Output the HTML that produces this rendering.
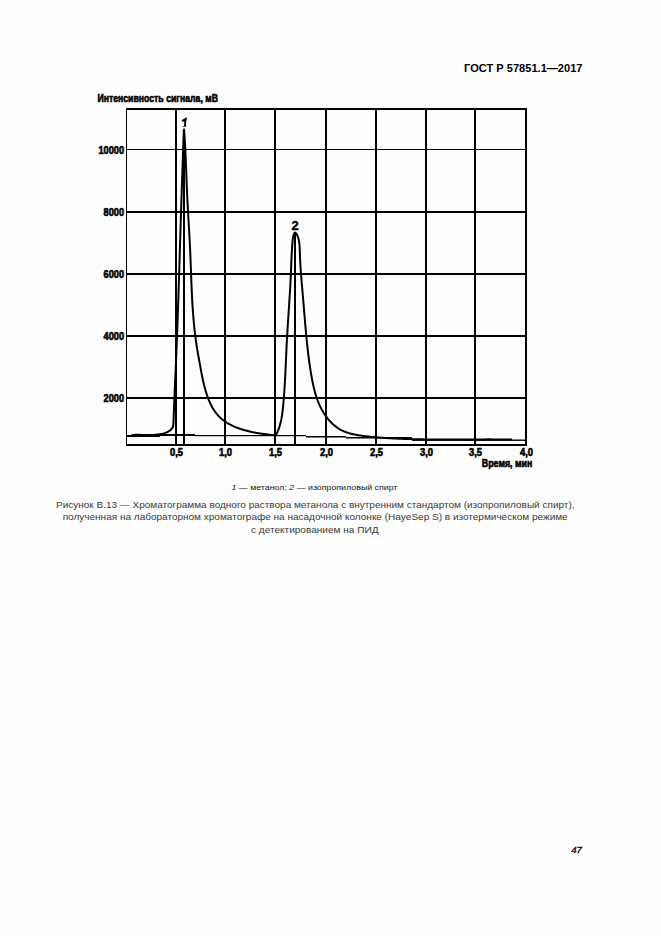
<!DOCTYPE html>
<html><head><meta charset="utf-8">
<style>
html,body{margin:0;padding:0;}
body{width:661px;height:936px;background:#fdfdfd;overflow:hidden;}
svg{position:absolute;left:0;top:0;display:block;}
text{font-family:"Liberation Sans",sans-serif;white-space:pre;}
</style></head><body>
<svg width="661" height="936" viewBox="0 0 661 936">

<g fill="#000">
<rect x="126" y="108" width="1" height="338"/>
<rect x="126" y="108" width="401" height="2"/>
<rect x="126" y="444" width="401" height="2"/>
<rect x="525" y="108" width="2" height="338"/>
<rect x="175" y="108" width="2" height="338"/>
<rect x="224" y="108" width="2" height="338"/>
<rect x="274" y="108" width="2" height="338"/>
<rect x="325" y="108" width="2" height="338"/>
<rect x="375" y="108" width="2" height="338"/>
<rect x="425" y="108" width="2" height="338"/>
<rect x="474" y="108" width="2" height="338"/>
<rect x="126" y="149" width="400" height="1"/>
<rect x="126" y="211" width="400" height="2"/>
<rect x="126" y="273" width="400" height="2"/>
<rect x="126" y="335" width="400" height="2"/>
<rect x="126" y="397" width="400" height="2"/>
<rect x="183" y="129" width="2" height="315"/>
<rect x="294" y="233" width="2" height="211"/>
</g>
<g fill="#000"><rect x="126" y="435" width="6" height="2"/><rect x="132" y="434" width="28" height="3"/><rect x="160" y="434" width="35" height="2"/><rect x="195" y="435" width="111" height="1.2"/><rect x="306" y="436" width="40" height="1.5"/><rect x="346" y="437" width="66" height="1.5"/><rect x="412" y="439.5" width="113" height="1.4"/></g>
<path d="M131.50 435.00 L132.52 434.98 L133.52 434.93 L134.52 434.89 L135.53 434.87 L136.53 434.86 L137.53 434.85 L138.53 434.85 L139.53 434.86 L140.53 434.87 L141.54 434.89 L142.54 434.91 L143.54 434.93 L144.54 434.95 L145.54 434.96 L146.54 434.98 L147.54 434.99 L148.55 434.99 L149.55 434.99 L150.55 434.98 L151.55 434.95 L152.55 434.92 L153.55 434.88 L154.55 434.82 L155.55 434.75 L156.55 434.66 L157.55 434.55 L158.54 434.42 L159.53 434.27 L160.52 434.10 L161.50 433.91 L162.48 433.69 L163.45 433.44 L164.41 433.16 L165.37 432.86 L166.31 432.52 L167.23 432.13 L168.13 431.69 L168.99 431.18 L169.82 430.61 L170.59 429.97 L171.30 429.27 L171.94 428.50 L172.49 427.66 L172.92 426.76 L173.20 425.80 L173.35 424.81 L173.43 423.81 L173.47 422.81 L173.50 421.81 L173.53 420.80 L173.57 419.80 L173.60 418.80 L173.64 417.80 L173.67 416.80 L173.71 415.80 L173.75 414.80 L173.78 413.80 L173.82 412.80 L173.86 411.79 L173.90 410.79 L173.94 409.79 L173.98 408.79 L174.02 407.79 L174.06 406.79 L174.10 405.79 L174.14 404.79 L174.18 403.79 L174.22 402.79 L174.26 401.79 L174.31 400.79 L174.35 399.78 L174.39 398.78 L174.43 397.78 L174.48 396.78 L174.52 395.78 L174.56 394.78 L174.61 393.78 L174.65 392.78 L174.69 391.78 L174.74 390.78 L174.78 389.78 L174.82 388.78 L174.87 387.78 L174.91 386.77 L174.95 385.77 L175.00 384.77 L175.04 383.77 L175.08 382.77 L175.13 381.77 L175.17 380.77 L175.21 379.77 L175.26 378.77 L175.30 377.77 L175.34 376.77 L175.39 375.77 L175.43 374.77 L175.47 373.76 L175.52 372.76 L175.56 371.76 L175.60 370.76 L175.64 369.76 L175.69 368.76 L175.73 367.76 L175.77 366.76 L175.81 365.76 L175.85 364.76 L175.90 363.76 L175.94 362.76 L175.98 361.75 L176.02 360.75 L176.06 359.75 L176.10 358.75 L176.15 357.75 L176.19 356.75 L176.23 355.75 L176.27 354.75 L176.31 353.75 L176.35 352.75 L176.39 351.75 L176.43 350.74 L176.47 349.74 L176.51 348.74 L176.55 347.74 L176.59 346.74 L176.63 345.74 L176.67 344.74 L176.71 343.74 L176.75 342.74 L176.79 341.74 L176.83 340.74 L176.87 339.73 L176.91 338.73 L176.95 337.73 L176.99 336.73 L177.03 335.73 L177.07 334.73 L177.10 333.73 L177.14 332.73 L177.18 331.73 L177.22 330.73 L177.26 329.73 L177.29 328.72 L177.33 327.72 L177.37 326.72 L177.41 325.72 L177.44 324.72 L177.48 323.72 L177.52 322.72 L177.55 321.72 L177.59 320.72 L177.63 319.71 L177.66 318.71 L177.70 317.71 L177.73 316.71 L177.77 315.71 L177.81 314.71 L177.84 313.71 L177.88 312.71 L177.91 311.71 L177.95 310.71 L177.98 309.70 L178.02 308.70 L178.05 307.70 L178.08 306.70 L178.12 305.70 L178.15 304.70 L178.19 303.70 L178.22 302.70 L178.25 301.69 L178.29 300.69 L178.32 299.69 L178.35 298.69 L178.38 297.69 L178.42 296.69 L178.45 295.69 L178.48 294.69 L178.51 293.69 L178.55 292.68 L178.58 291.68 L178.61 290.68 L178.64 289.68 L178.67 288.68 L178.71 287.68 L178.74 286.68 L178.77 285.68 L178.80 284.67 L178.83 283.67 L178.86 282.67 L178.90 281.67 L178.93 280.67 L178.96 279.67 L178.99 278.67 L179.02 277.67 L179.05 276.66 L179.08 275.66 L179.11 274.66 L179.14 273.66 L179.17 272.66 L179.20 271.66 L179.23 270.66 L179.27 269.66 L179.30 268.66 L179.33 267.65 L179.36 266.65 L179.39 265.65 L179.42 264.65 L179.45 263.65 L179.48 262.65 L179.51 261.65 L179.54 260.65 L179.57 259.64 L179.60 258.64 L179.63 257.64 L179.66 256.64 L179.69 255.64 L179.72 254.64 L179.75 253.64 L179.78 252.64 L179.81 251.63 L179.84 250.63 L179.87 249.63 L179.90 248.63 L179.93 247.63 L179.97 246.63 L180.00 245.63 L180.03 244.63 L180.06 243.62 L180.09 242.62 L180.12 241.62 L180.15 240.62 L180.18 239.62 L180.21 238.62 L180.24 237.62 L180.27 236.62 L180.30 235.61 L180.34 234.61 L180.37 233.61 L180.40 232.61 L180.43 231.61 L180.46 230.61 L180.49 229.61 L180.52 228.61 L180.55 227.60 L180.59 226.60 L180.62 225.60 L180.65 224.60 L180.68 223.60 L180.71 222.60 L180.74 221.60 L180.77 220.60 L180.81 219.59 L180.84 218.59 L180.87 217.59 L180.90 216.59 L180.93 215.59 L180.97 214.59 L181.00 213.59 L181.03 212.59 L181.06 211.58 L181.09 210.58 L181.13 209.58 L181.16 208.58 L181.19 207.58 L181.22 206.58 L181.25 205.58 L181.29 204.58 L181.32 203.58 L181.35 202.57 L181.38 201.57 L181.42 200.57 L181.45 199.57 L181.48 198.57 L181.51 197.57 L181.55 196.57 L181.58 195.57 L181.61 194.56 L181.65 193.56 L181.68 192.56 L181.71 191.56 L181.74 190.56 L181.78 189.56 L181.81 188.56 L181.84 187.56 L181.88 186.56 L181.91 185.55 L181.94 184.55 L181.98 183.55 L182.01 182.55 L182.04 181.55 L182.08 180.55 L182.11 179.55 L182.14 178.55 L182.18 177.55 L182.21 176.54 L182.24 175.54 L182.28 174.54 L182.31 173.54 L182.34 172.54 L182.38 171.54 L182.41 170.54 L182.45 169.54 L182.48 168.53 L182.51 167.53 L182.55 166.53 L182.58 165.53 L182.62 164.53 L182.65 163.53 L182.68 162.53 L182.72 161.53 L182.75 160.53 L182.79 159.52 L182.82 158.52 L182.86 157.52 L182.89 156.52 L182.92 155.52 L182.96 154.52 L182.99 153.52 L183.03 152.52 L183.06 151.52 L183.10 150.51 L183.13 149.51 L183.17 148.51 L183.20 147.51 L183.24 146.51 L183.27 145.51 L183.31 144.51 L183.34 143.51 L183.38 142.51 L183.41 141.50 L183.45 140.50 L183.48 139.50 L183.52 138.50 L183.55 137.50 L183.59 136.50 L183.62 135.50 L183.66 134.50 L183.69 133.50 L183.73 132.49 L183.76 131.49 L183.80 130.49 L184.00 129.50 L184.12 130.50 L184.20 131.50 L184.27 132.50 L184.34 133.50 L184.41 134.50 L184.48 135.49 L184.55 136.49 L184.61 137.49 L184.67 138.49 L184.74 139.49 L184.80 140.49 L184.86 141.49 L184.92 142.49 L184.97 143.49 L185.03 144.49 L185.08 145.49 L185.14 146.49 L185.19 147.49 L185.24 148.49 L185.29 149.49 L185.34 150.50 L185.39 151.50 L185.44 152.50 L185.48 153.50 L185.53 154.50 L185.57 155.50 L185.62 156.50 L185.66 157.50 L185.70 158.50 L185.75 159.50 L185.79 160.50 L185.83 161.50 L185.87 162.50 L185.91 163.50 L185.95 164.51 L185.99 165.51 L186.03 166.51 L186.07 167.51 L186.11 168.51 L186.14 169.51 L186.18 170.51 L186.22 171.51 L186.26 172.51 L186.30 173.51 L186.33 174.51 L186.37 175.52 L186.41 176.52 L186.45 177.52 L186.48 178.52 L186.52 179.52 L186.56 180.52 L186.60 181.52 L186.64 182.52 L186.68 183.52 L186.72 184.52 L186.76 185.52 L186.80 186.53 L186.84 187.53 L186.88 188.53 L186.92 189.53 L186.97 190.53 L187.01 191.53 L187.05 192.53 L187.10 193.53 L187.15 194.53 L187.19 195.53 L187.24 196.53 L187.29 197.53 L187.34 198.53 L187.39 199.53 L187.44 200.53 L187.49 201.53 L187.54 202.54 L187.59 203.54 L187.64 204.54 L187.70 205.54 L187.75 206.54 L187.80 207.54 L187.86 208.54 L187.91 209.54 L187.97 210.54 L188.02 211.54 L188.08 212.54 L188.14 213.54 L188.19 214.54 L188.25 215.54 L188.31 216.54 L188.37 217.54 L188.42 218.54 L188.48 219.54 L188.54 220.54 L188.60 221.54 L188.65 222.54 L188.71 223.54 L188.77 224.54 L188.83 225.54 L188.88 226.54 L188.94 227.54 L189.00 228.54 L189.06 229.54 L189.11 230.54 L189.17 231.54 L189.22 232.54 L189.28 233.54 L189.34 234.54 L189.39 235.54 L189.45 236.54 L189.50 237.54 L189.55 238.54 L189.61 239.54 L189.66 240.54 L189.71 241.54 L189.76 242.54 L189.81 243.54 L189.86 244.54 L189.91 245.54 L189.96 246.54 L190.01 247.54 L190.06 248.54 L190.11 249.54 L190.15 250.54 L190.20 251.54 L190.24 252.55 L190.28 253.55 L190.33 254.55 L190.37 255.55 L190.41 256.55 L190.45 257.55 L190.49 258.55 L190.53 259.55 L190.57 260.55 L190.61 261.55 L190.65 262.55 L190.69 263.56 L190.72 264.56 L190.76 265.56 L190.80 266.56 L190.84 267.56 L190.87 268.56 L190.91 269.56 L190.95 270.56 L190.98 271.56 L191.02 272.56 L191.06 273.56 L191.10 274.57 L191.13 275.57 L191.17 276.57 L191.21 277.57 L191.25 278.57 L191.28 279.57 L191.32 280.57 L191.36 281.57 L191.40 282.57 L191.44 283.57 L191.48 284.58 L191.52 285.58 L191.57 286.58 L191.61 287.58 L191.65 288.58 L191.70 289.58 L191.74 290.58 L191.79 291.58 L191.83 292.58 L191.88 293.58 L191.93 294.58 L191.98 295.58 L192.03 296.58 L192.08 297.58 L192.13 298.58 L192.19 299.58 L192.24 300.58 L192.30 301.58 L192.35 302.58 L192.41 303.58 L192.47 304.58 L192.53 305.58 L192.60 306.58 L192.66 307.58 L192.73 308.58 L192.79 309.58 L192.86 310.58 L192.93 311.58 L193.01 312.58 L193.08 313.58 L193.16 314.58 L193.23 315.58 L193.31 316.57 L193.39 317.57 L193.48 318.57 L193.56 319.57 L193.65 320.57 L193.74 321.56 L193.83 322.56 L193.92 323.56 L194.02 324.56 L194.12 325.55 L194.22 326.55 L194.32 327.55 L194.43 328.54 L194.53 329.54 L194.64 330.53 L194.76 331.53 L194.87 332.52 L194.99 333.52 L195.11 334.51 L195.23 335.51 L195.36 336.50 L195.48 337.49 L195.61 338.49 L195.75 339.48 L195.88 340.47 L196.02 341.47 L196.17 342.46 L196.31 343.45 L196.46 344.44 L196.61 345.43 L196.76 346.42 L196.92 347.41 L197.08 348.40 L197.24 349.38 L197.41 350.37 L197.57 351.36 L197.74 352.35 L197.91 353.34 L198.08 354.32 L198.26 355.31 L198.43 356.29 L198.61 357.28 L198.79 358.27 L198.97 359.25 L199.14 360.24 L199.32 361.22 L199.50 362.21 L199.68 363.19 L199.87 364.18 L200.05 365.16 L200.23 366.15 L200.41 367.14 L200.59 368.12 L200.77 369.11 L200.95 370.09 L201.13 371.08 L201.32 372.06 L201.50 373.04 L201.69 374.03 L201.88 375.01 L202.07 375.99 L202.27 376.98 L202.47 377.96 L202.68 378.94 L202.88 379.92 L203.10 380.90 L203.32 381.87 L203.54 382.85 L203.77 383.83 L204.00 384.80 L204.24 385.77 L204.49 386.74 L204.75 387.71 L205.01 388.68 L205.28 389.64 L205.55 390.61 L205.84 391.57 L206.13 392.52 L206.44 393.48 L206.75 394.43 L207.07 395.38 L207.40 396.33 L207.74 397.27 L208.09 398.21 L208.45 399.14 L208.82 400.07 L209.21 400.99 L209.61 401.91 L210.02 402.83 L210.44 403.73 L210.88 404.63 L211.33 405.53 L211.80 406.41 L212.28 407.29 L212.78 408.16 L213.30 409.02 L213.83 409.87 L214.38 410.71 L214.95 411.53 L215.53 412.34 L216.13 413.14 L216.76 413.93 L217.40 414.70 L218.06 415.45 L218.74 416.18 L219.45 416.90 L220.17 417.59 L220.90 418.27 L221.66 418.93 L222.43 419.56 L223.22 420.18 L224.02 420.78 L224.84 421.37 L225.66 421.93 L226.50 422.48 L227.35 423.01 L228.22 423.52 L229.09 424.01 L229.97 424.49 L230.85 424.95 L231.75 425.40 L232.65 425.83 L233.56 426.25 L234.48 426.66 L235.40 427.05 L236.33 427.43 L237.26 427.79 L238.20 428.14 L239.14 428.48 L240.09 428.81 L241.04 429.13 L241.99 429.44 L242.95 429.73 L243.91 430.02 L244.87 430.29 L245.84 430.56 L246.81 430.82 L247.78 431.06 L248.75 431.30 L249.73 431.53 L250.70 431.75 L251.68 431.97 L252.66 432.17 L253.64 432.37 L254.63 432.56 L255.61 432.74 L256.60 432.92 L257.58 433.09 L258.57 433.25 L259.56 433.41 L260.55 433.56 L261.54 433.71 L262.54 433.85 L263.53 433.98 L264.52 434.11 L265.51 434.24 L266.51 434.36 L267.50 434.48 L268.50 434.60 L269.49 434.71 L270.49 434.82 L271.49 434.92 L272.48 435.03 L273.48 435.13 L274.47 435.23 L275.50 435.30 L276.19 434.60 L276.65 433.71 L277.08 432.80 L277.49 431.89 L277.89 430.96 L278.26 430.03 L278.62 429.09 L278.96 428.15 L279.28 427.20 L279.58 426.24 L279.87 425.28 L280.14 424.31 L280.40 423.34 L280.64 422.36 L280.87 421.39 L281.09 420.41 L281.29 419.42 L281.48 418.44 L281.66 417.45 L281.83 416.46 L281.99 415.47 L282.13 414.47 L282.28 413.48 L282.41 412.48 L282.53 411.49 L282.65 410.49 L282.77 409.49 L282.88 408.49 L282.98 407.50 L283.08 406.50 L283.18 405.50 L283.27 404.50 L283.37 403.50 L283.46 402.50 L283.54 401.50 L283.63 400.50 L283.71 399.50 L283.80 398.50 L283.88 397.49 L283.96 396.49 L284.03 395.49 L284.11 394.49 L284.18 393.49 L284.25 392.49 L284.32 391.49 L284.39 390.48 L284.46 389.48 L284.52 388.48 L284.59 387.48 L284.65 386.48 L284.71 385.47 L284.77 384.47 L284.83 383.47 L284.89 382.47 L284.94 381.46 L285.00 380.46 L285.05 379.46 L285.11 378.46 L285.16 377.45 L285.21 376.45 L285.26 375.45 L285.31 374.44 L285.36 373.44 L285.41 372.44 L285.46 371.43 L285.51 370.43 L285.55 369.43 L285.60 368.43 L285.65 367.42 L285.69 366.42 L285.74 365.42 L285.78 364.41 L285.83 363.41 L285.87 362.41 L285.92 361.40 L285.96 360.40 L286.01 359.40 L286.05 358.39 L286.09 357.39 L286.14 356.39 L286.18 355.38 L286.23 354.38 L286.27 353.38 L286.32 352.37 L286.36 351.37 L286.41 350.37 L286.46 349.37 L286.50 348.36 L286.55 347.36 L286.60 346.36 L286.65 345.35 L286.70 344.35 L286.75 343.35 L286.80 342.34 L286.85 341.34 L286.90 340.34 L286.96 339.34 L287.01 338.33 L287.07 337.33 L287.12 336.33 L287.18 335.33 L287.24 334.32 L287.30 333.32 L287.36 332.32 L287.42 331.32 L287.48 330.31 L287.54 329.31 L287.60 328.31 L287.66 327.31 L287.72 326.30 L287.79 325.30 L287.85 324.30 L287.91 323.30 L287.98 322.30 L288.04 321.29 L288.11 320.29 L288.17 319.29 L288.24 318.29 L288.30 317.29 L288.37 316.28 L288.43 315.28 L288.50 314.28 L288.56 313.28 L288.63 312.28 L288.70 311.27 L288.76 310.27 L288.83 309.27 L288.89 308.27 L288.96 307.26 L289.02 306.26 L289.09 305.26 L289.16 304.26 L289.22 303.26 L289.28 302.25 L289.35 301.25 L289.41 300.25 L289.48 299.25 L289.54 298.25 L289.60 297.24 L289.66 296.24 L289.73 295.24 L289.79 294.24 L289.85 293.23 L289.91 292.23 L289.97 291.23 L290.03 290.23 L290.09 289.22 L290.14 288.22 L290.20 287.22 L290.26 286.22 L290.31 285.21 L290.37 284.21 L290.42 283.21 L290.47 282.21 L290.52 281.20 L290.58 280.20 L290.63 279.20 L290.67 278.19 L290.72 277.19 L290.77 276.19 L290.82 275.19 L290.86 274.18 L290.90 273.18 L290.95 272.18 L290.99 271.17 L291.03 270.17 L291.07 269.17 L291.11 268.16 L291.15 267.16 L291.19 266.16 L291.23 265.15 L291.27 264.15 L291.30 263.15 L291.35 262.14 L291.39 261.14 L291.43 260.14 L291.47 259.13 L291.51 258.13 L291.56 257.13 L291.60 256.12 L291.65 255.12 L291.70 254.12 L291.75 253.11 L291.81 252.11 L291.86 251.11 L291.92 250.11 L291.98 249.10 L292.04 248.10 L292.11 247.10 L292.18 246.10 L292.25 245.10 L292.32 244.09 L292.40 243.09 L292.48 242.09 L292.57 241.09 L292.66 240.09 L292.77 239.09 L292.90 238.10 L293.07 237.11 L293.29 236.13 L293.58 235.17 L293.94 234.23 L294.37 233.33 L295.20 232.60 L296.04 233.22 L296.58 234.07 L297.06 234.95 L297.48 235.85 L297.85 236.78 L298.17 237.73 L298.45 238.70 L298.69 239.67 L298.89 240.65 L299.06 241.64 L299.21 242.63 L299.34 243.62 L299.45 244.62 L299.54 245.62 L299.61 246.61 L299.67 247.61 L299.73 248.62 L299.77 249.62 L299.80 250.62 L299.84 251.62 L299.87 252.62 L299.90 253.62 L299.93 254.62 L299.96 255.62 L300.00 256.63 L300.04 257.63 L300.09 258.63 L300.13 259.63 L300.18 260.63 L300.23 261.63 L300.28 262.63 L300.34 263.63 L300.40 264.63 L300.46 265.63 L300.52 266.63 L300.58 267.63 L300.65 268.63 L300.72 269.63 L300.79 270.63 L300.86 271.63 L300.93 272.63 L301.01 273.63 L301.08 274.63 L301.16 275.63 L301.24 276.62 L301.32 277.62 L301.40 278.62 L301.48 279.62 L301.56 280.62 L301.64 281.62 L301.73 282.62 L301.81 283.61 L301.90 284.61 L301.98 285.61 L302.07 286.61 L302.16 287.61 L302.24 288.61 L302.33 289.60 L302.42 290.60 L302.50 291.60 L302.59 292.60 L302.68 293.60 L302.76 294.59 L302.85 295.59 L302.93 296.59 L303.02 297.59 L303.10 298.59 L303.19 299.59 L303.27 300.58 L303.36 301.58 L303.44 302.58 L303.52 303.58 L303.60 304.58 L303.69 305.58 L303.77 306.58 L303.85 307.57 L303.93 308.57 L304.01 309.57 L304.10 310.57 L304.18 311.57 L304.26 312.57 L304.34 313.57 L304.42 314.56 L304.51 315.56 L304.59 316.56 L304.67 317.56 L304.75 318.56 L304.84 319.56 L304.92 320.55 L305.01 321.55 L305.09 322.55 L305.18 323.55 L305.26 324.55 L305.35 325.55 L305.44 326.54 L305.52 327.54 L305.61 328.54 L305.70 329.54 L305.79 330.54 L305.88 331.53 L305.97 332.53 L306.07 333.53 L306.16 334.53 L306.26 335.52 L306.35 336.52 L306.45 337.52 L306.55 338.52 L306.65 339.51 L306.75 340.51 L306.85 341.51 L306.95 342.50 L307.05 343.50 L307.16 344.50 L307.27 345.49 L307.38 346.49 L307.49 347.48 L307.60 348.48 L307.71 349.47 L307.83 350.47 L307.94 351.47 L308.06 352.46 L308.18 353.45 L308.30 354.45 L308.42 355.44 L308.55 356.44 L308.68 357.43 L308.81 358.43 L308.94 359.42 L309.07 360.41 L309.21 361.40 L309.34 362.40 L309.48 363.39 L309.62 364.38 L309.77 365.37 L309.91 366.36 L310.06 367.35 L310.21 368.35 L310.36 369.34 L310.52 370.33 L310.68 371.31 L310.84 372.30 L311.00 373.29 L311.16 374.28 L311.33 375.27 L311.50 376.26 L311.68 377.24 L311.85 378.23 L312.04 379.21 L312.22 380.20 L312.41 381.18 L312.61 382.16 L312.81 383.15 L313.01 384.13 L313.22 385.11 L313.44 386.08 L313.66 387.06 L313.89 388.04 L314.13 389.01 L314.38 389.98 L314.63 390.95 L314.89 391.92 L315.16 392.88 L315.44 393.85 L315.72 394.81 L316.02 395.76 L316.33 396.72 L316.64 397.67 L316.97 398.61 L317.30 399.56 L317.65 400.50 L318.01 401.43 L318.38 402.36 L318.76 403.29 L319.16 404.21 L319.56 405.13 L319.98 406.04 L320.41 406.94 L320.86 407.84 L321.32 408.73 L321.79 409.62 L322.27 410.49 L322.77 411.36 L323.28 412.22 L323.81 413.08 L324.35 413.92 L324.90 414.75 L325.47 415.58 L326.05 416.40 L326.65 417.20 L327.26 418.00 L327.88 418.78 L328.52 419.55 L329.17 420.31 L329.84 421.06 L330.52 421.79 L331.22 422.51 L331.93 423.21 L332.66 423.90 L333.40 424.58 L334.16 425.23 L334.93 425.87 L335.72 426.49 L336.52 427.09 L337.34 427.67 L338.17 428.23 L339.01 428.77 L339.87 429.29 L340.75 429.78 L341.63 430.24 L342.53 430.69 L343.44 431.10 L344.36 431.50 L345.29 431.87 L346.23 432.23 L347.18 432.56 L348.13 432.87 L349.09 433.16 L350.05 433.44 L351.02 433.70 L351.99 433.95 L352.96 434.18 L353.94 434.39 L354.92 434.60 L355.91 434.79 L356.89 434.97 L357.88 435.14 L358.87 435.30 L359.86 435.45 L360.85 435.60 L361.84 435.74 L362.83 435.87 L363.83 436.00 L364.82 436.12 L365.82 436.24 L366.81 436.36 L367.81 436.48 L368.80 436.59 L369.80 436.69 L370.79 436.80 L371.79 436.90 L372.79 436.99 L373.79 437.09 L374.78 437.18 L375.78 437.27 L376.78 437.36 L377.78 437.44 L378.78 437.52 L379.78 437.60 L380.78 437.67 L381.77 437.75 L382.77 437.82 L383.77 437.89 L384.77 437.95 L385.77 438.02 L386.77 438.08 L387.77 438.14 L388.77 438.20 L389.77 438.26 L390.77 438.31 L391.77 438.36 L392.77 438.42 L393.78 438.47 L394.78 438.52 L395.78 438.56 L396.78 438.61 L397.78 438.65 L398.78 438.70 L399.78 438.74 L400.78 438.78 L401.78 438.82 L402.78 438.86 L403.79 438.89 L404.79 438.93 L405.79 438.96 L406.79 438.99 L407.79 439.03 L408.79 439.06 L409.79 439.08 L410.80 439.11 L411.80 439.14 L412.80 439.16 L413.80 439.19 L414.80 439.21 L415.80 439.23 L416.81 439.26 L417.81 439.28 L418.81 439.29 L419.81 439.31 L420.81 439.33 L421.81 439.35 L422.82 439.36 L423.82 439.38 L424.82 439.39 L425.82 439.40 L426.82 439.41 L427.82 439.43 L428.83 439.44 L429.83 439.45 L430.83 439.45 L431.83 439.46 L432.83 439.47 L433.84 439.48 L434.84 439.48 L435.84 439.49 L436.84 439.49 L437.84 439.50 L438.85 439.50 L439.85 439.50 L440.85 439.51 L441.85 439.51 L442.85 439.51 L443.86 439.51 L444.86 439.51 L445.86 439.51 L446.86 439.51 L447.86 439.51 L448.86 439.51 L449.87 439.51 L450.87 439.51 L451.87 439.50 L452.87 439.50 L453.87 439.50 L454.88 439.49 L455.88 439.49 L456.88 439.49 L457.88 439.48 L458.88 439.48 L459.89 439.48 L460.89 439.47 L461.89 439.47 L462.89 439.46 L463.89 439.46 L464.90 439.45 L465.90 439.45 L466.90 439.44 L467.90 439.44 L468.90 439.43 L469.90 439.43 L470.91 439.43 L471.91 439.42 L472.91 439.42 L473.91 439.41 L474.91 439.41 L475.92 439.40 L476.92 439.40 L477.92 439.40 L478.92 439.39 L479.92 439.39 L480.93 439.39 L481.93 439.38 L482.93 439.38 L483.93 439.38 L484.93 439.38 L485.94 439.38 L486.94 439.37 L487.94 439.37 L488.94 439.37 L489.94 439.37 L490.94 439.37 L491.95 439.38 L492.95 439.38 L493.95 439.38 L494.95 439.38 L495.95 439.39 L496.96 439.39 L497.96 439.39 L498.96 439.40 L499.96 439.40 L500.96 439.41 L501.97 439.42 L502.97 439.43 L503.97 439.43 L504.97 439.44 L505.97 439.45 L506.98 439.46 L507.98 439.48 L508.98 439.49 L509.98 439.50 L510.98 439.52 L512.00 439.50" fill="none" stroke="#000" stroke-width="2.0" stroke-linejoin="round"/>

<text x="464" y="72" font-size="11" font-weight="bold" textLength="118.5" lengthAdjust="spacingAndGlyphs">ГОСТ Р 57851.1—2017</text>
<text x="97.4" y="102" font-size="10.5" font-weight="bold" textLength="120.6" lengthAdjust="spacingAndGlyphs" stroke="#000" stroke-width="0.6">Интенсивность сигнала, мВ</text>
<text x="124.0" y="154" font-size="10.4" font-weight="bold" text-anchor="end" textLength="25.5" lengthAdjust="spacingAndGlyphs" stroke="#000" stroke-width="0.6">10000</text>
<text x="124.0" y="216" font-size="10.4" font-weight="bold" text-anchor="end" textLength="20.4" lengthAdjust="spacingAndGlyphs" stroke="#000" stroke-width="0.6">8000</text>
<text x="124.0" y="278" font-size="10.4" font-weight="bold" text-anchor="end" textLength="20.4" lengthAdjust="spacingAndGlyphs" stroke="#000" stroke-width="0.6">6000</text>
<text x="124.0" y="340" font-size="10.4" font-weight="bold" text-anchor="end" textLength="20.4" lengthAdjust="spacingAndGlyphs" stroke="#000" stroke-width="0.6">4000</text>
<text x="124.0" y="402" font-size="10.4" font-weight="bold" text-anchor="end" textLength="20.4" lengthAdjust="spacingAndGlyphs" stroke="#000" stroke-width="0.6">2000</text>
<text x="176.5" y="456" font-size="10.4" font-weight="bold" text-anchor="middle" textLength="13.0" lengthAdjust="spacingAndGlyphs" stroke="#000" stroke-width="0.6">0,5</text>
<text x="225.5" y="456" font-size="10.4" font-weight="bold" text-anchor="middle" textLength="13.0" lengthAdjust="spacingAndGlyphs" stroke="#000" stroke-width="0.6">1,0</text>
<text x="275.5" y="456" font-size="10.4" font-weight="bold" text-anchor="middle" textLength="13.0" lengthAdjust="spacingAndGlyphs" stroke="#000" stroke-width="0.6">1,5</text>
<text x="326.5" y="456" font-size="10.4" font-weight="bold" text-anchor="middle" textLength="13.0" lengthAdjust="spacingAndGlyphs" stroke="#000" stroke-width="0.6">2,0</text>
<text x="376.5" y="456" font-size="10.4" font-weight="bold" text-anchor="middle" textLength="13.0" lengthAdjust="spacingAndGlyphs" stroke="#000" stroke-width="0.6">2,5</text>
<text x="426.5" y="456" font-size="10.4" font-weight="bold" text-anchor="middle" textLength="13.0" lengthAdjust="spacingAndGlyphs" stroke="#000" stroke-width="0.6">3,0</text>
<text x="475.5" y="456" font-size="10.4" font-weight="bold" text-anchor="middle" textLength="13.0" lengthAdjust="spacingAndGlyphs" stroke="#000" stroke-width="0.6">3,5</text>
<text x="526.5" y="456" font-size="10.4" font-weight="bold" text-anchor="middle" textLength="13.0" lengthAdjust="spacingAndGlyphs" stroke="#000" stroke-width="0.6">4,0</text>
<text x="481.8" y="467" font-size="10.3" font-weight="bold" textLength="50.6" lengthAdjust="spacingAndGlyphs" stroke="#000" stroke-width="0.6">Время, мин</text>
<path d="M187.2 117 L186.1 121.3 L186.1 126.8 L183 126.8 L183 125.9 L184.1 125.9 L184.2 121.4 L181.9 121.4 L181.9 120 L184.6 118.5 Z" fill="#000"/>
<text x="291.6" y="229.5" font-size="12.6" font-weight="bold" textLength="7.2" lengthAdjust="spacingAndGlyphs" stroke="#000" stroke-width="0.4">2</text>
<text x="231.5" y="490" font-size="7" fill="#111" textLength="166" lengthAdjust="spacingAndGlyphs" ><tspan font-style="italic">1</tspan> — метанол; <tspan font-style="italic">2</tspan> — изопропиловый спирт</text>
<text x="56" y="508" font-size="9.6" fill="#3a3a3a" textLength="518.5" lengthAdjust="spacingAndGlyphs">Рисунок В.13 — Хроматограмма водного раствора метанола с внутренним стандартом (изопропиловый спирт),</text>
<text x="62.7" y="520.2" font-size="9.6" fill="#3a3a3a" textLength="505" lengthAdjust="spacingAndGlyphs">полученная на лабораторном хроматографе на насадочной колонке (HayeSep S) в изотермическом режиме</text>
<text x="251" y="533" font-size="9.6" fill="#3a3a3a" textLength="127.5" lengthAdjust="spacingAndGlyphs">с детектированием на ПИД</text>
<text x="571.2" y="853" font-size="9.5" font-style="italic" textLength="10.8" lengthAdjust="spacingAndGlyphs" stroke="#000" stroke-width="0.3">47</text>
</svg>
</body></html>
